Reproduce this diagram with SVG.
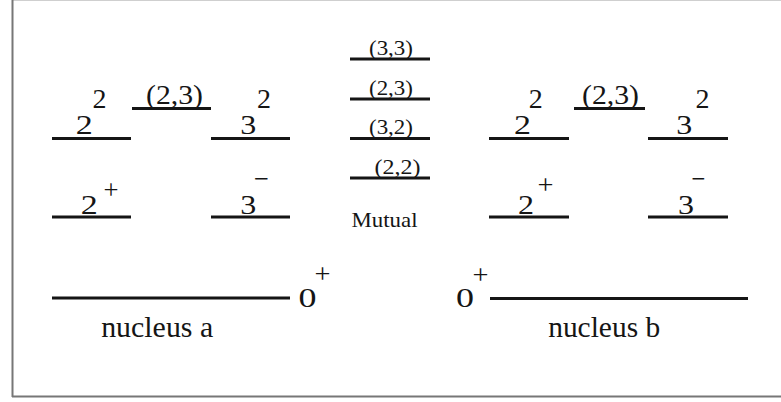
<svg xmlns="http://www.w3.org/2000/svg" width="781" height="402" viewBox="0 0 781 402">
<style>
.lv{stroke:#151515;stroke-width:3;fill:none}
text{font-family:"Liberation Serif","Times New Roman",serif;fill:#151515;text-anchor:middle}
.b{font-size:27px}
.s{font-size:27px}
.p{font-size:28px}
.m{font-size:21px}
.u{font-size:21px}
.g{font-size:27px}
.n{font-size:29px}
</style>
<rect x="0" y="0" width="781" height="402" fill="#fff"/>
<line x1="12" y1="0.5" x2="781" y2="0.5" stroke="#cfcfcf" stroke-width="1"/>
<line x1="12.5" y1="0" x2="12.5" y2="397" stroke="#777" stroke-width="2"/>
<line x1="12" y1="396.5" x2="781" y2="396.5" stroke="#777" stroke-width="2"/>

<g id="nucleus-a">
  <g id="a-2-2"><line class="lv" x1="52" y1="138.5" x2="131" y2="138.5"/>
    <text class="b" x="84.2" y="134" textLength="17" lengthAdjust="spacingAndGlyphs">2</text>
    <text class="s" x="99.5" y="108.3" textLength="14" lengthAdjust="spacingAndGlyphs">2</text></g>
  <g id="a-23"><line class="lv" x1="132" y1="108.5" x2="211" y2="108.5"/>
    <text class="b" x="174.5" y="103.5" textLength="57" lengthAdjust="spacingAndGlyphs">(2,3)</text></g>
  <g id="a-3-2"><line class="lv" x1="211" y1="138.5" x2="290" y2="138.5"/>
    <text class="b" x="248.3" y="134" textLength="16" lengthAdjust="spacingAndGlyphs">3</text>
    <text class="s" x="264" y="108" textLength="14" lengthAdjust="spacingAndGlyphs">2</text></g>
  <g id="a-2p"><line class="lv" x1="52" y1="217" x2="131" y2="217"/>
    <text class="b" x="89.2" y="213.5" textLength="17" lengthAdjust="spacingAndGlyphs">2</text>
    <text class="p" x="111" y="198.5" textLength="15" lengthAdjust="spacingAndGlyphs">+</text></g>
  <g id="a-3m"><line class="lv" x1="211" y1="217" x2="290" y2="217"/>
    <text class="b" x="248.3" y="213.5" textLength="16" lengthAdjust="spacingAndGlyphs">3</text>
    <text class="p" x="261.5" y="187.5" textLength="15" lengthAdjust="spacingAndGlyphs">−</text></g>
  <g id="a-0p"><line class="lv" x1="52" y1="298" x2="290" y2="298"/>
    <text class="g" x="307.5" y="307" textLength="18" lengthAdjust="spacingAndGlyphs">0</text>
    <text class="p" x="322.5" y="283" textLength="16" lengthAdjust="spacingAndGlyphs">+</text></g>
  <text class="n" x="157.2" y="337.3" textLength="112" lengthAdjust="spacingAndGlyphs">nucleus a</text>
</g>

<g id="mutual">
  <g id="m-33"><line class="lv" x1="350" y1="59" x2="430" y2="59"/>
    <text class="m" x="391" y="55" textLength="44" lengthAdjust="spacingAndGlyphs">(3,3)</text></g>
  <g id="m-23"><line class="lv" x1="350" y1="99" x2="430" y2="99"/>
    <text class="m" x="391" y="95" textLength="44" lengthAdjust="spacingAndGlyphs">(2,3)</text></g>
  <g id="m-32"><line class="lv" x1="350" y1="138.5" x2="430" y2="138.5"/>
    <text class="m" x="391" y="134" textLength="44" lengthAdjust="spacingAndGlyphs">(3,2)</text></g>
  <g id="m-22"><line class="lv" x1="350" y1="178" x2="430" y2="178"/>
    <text class="m" x="397.5" y="174" textLength="46" lengthAdjust="spacingAndGlyphs">(2,2)</text></g>
  <text class="u" x="384.5" y="227" textLength="66" lengthAdjust="spacingAndGlyphs">Mutual</text>
</g>

<g id="nucleus-b">
  <g id="b-2-2"><line class="lv" x1="489" y1="138.5" x2="569" y2="138.5"/>
    <text class="b" x="522.5" y="134" textLength="17" lengthAdjust="spacingAndGlyphs">2</text>
    <text class="s" x="535.8" y="108" textLength="14" lengthAdjust="spacingAndGlyphs">2</text></g>
  <g id="b-23"><line class="lv" x1="574" y1="108.5" x2="645" y2="108.5"/>
    <text class="b" x="610.5" y="103.5" textLength="57" lengthAdjust="spacingAndGlyphs">(2,3)</text></g>
  <g id="b-3-2"><line class="lv" x1="648" y1="138.5" x2="728" y2="138.5"/>
    <text class="b" x="684.2" y="134" textLength="16" lengthAdjust="spacingAndGlyphs">3</text>
    <text class="s" x="702.5" y="108" textLength="14" lengthAdjust="spacingAndGlyphs">2</text></g>
  <g id="b-2p"><line class="lv" x1="489" y1="217" x2="569" y2="217"/>
    <text class="b" x="526" y="213.5" textLength="16" lengthAdjust="spacingAndGlyphs">2</text>
    <text class="p" x="545.5" y="193.5" textLength="16" lengthAdjust="spacingAndGlyphs">+</text></g>
  <g id="b-3m"><line class="lv" x1="648" y1="217" x2="728" y2="217"/>
    <text class="b" x="686" y="213.5" textLength="16" lengthAdjust="spacingAndGlyphs">3</text>
    <text class="p" x="698.5" y="187.5" textLength="14" lengthAdjust="spacingAndGlyphs">−</text></g>
  <g id="b-0p"><line class="lv" x1="490" y1="298.5" x2="748" y2="298.5"/>
    <text class="g" x="465" y="307" textLength="18" lengthAdjust="spacingAndGlyphs">0</text>
    <text class="p" x="480.5" y="283.5" textLength="16" lengthAdjust="spacingAndGlyphs">+</text></g>
  <text class="n" x="604.2" y="337" textLength="112" lengthAdjust="spacingAndGlyphs">nucleus b</text>
</g>

<g id="connectors"/>
</svg>
